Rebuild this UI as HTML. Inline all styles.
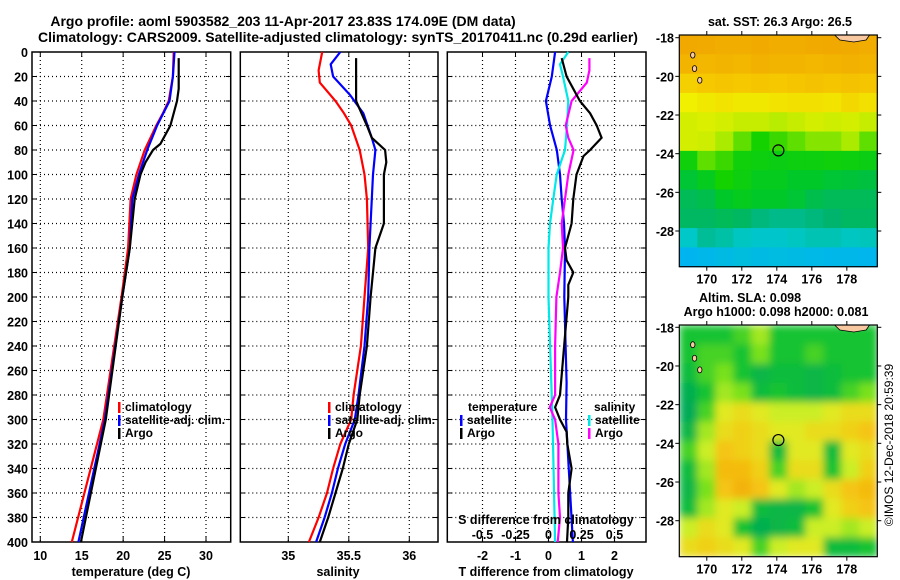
<!DOCTYPE html>
<html><head><meta charset="utf-8">
<style>
html,body{margin:0;padding:0;background:#fff;}
svg{display:block;font-family:"Liberation Sans",Arial,sans-serif;font-weight:bold;}
</style></head>
<body>
<svg id="fig" width="900" height="580" viewBox="0 0 900 580" xmlns="http://www.w3.org/2000/svg">
<defs>
<filter id="smooth" x="0" y="0" width="1" height="1"><feGaussianBlur stdDeviation="4" edgeMode="duplicate"/></filter>
<clipPath id="clipSla"><rect x="679.3" y="325" width="198" height="231.7"/></clipPath>
</defs>
<text x="283" y="26" font-size="14" text-anchor="middle">Argo profile: aoml 5903582_203 11-Apr-2017 23.83S 174.09E (DM data)</text>
<text x="338" y="42" font-size="14" text-anchor="middle">Climatology: CARS2009. Satellite-adjusted climatology: synTS_20170411.nc (0.29d earlier)</text>
<g id="p1"></g>
<g id="p2"></g>
<g id="p3"></g>
<g id="m1"></g>
<g id="m2"></g>
<text transform="translate(893,445) rotate(-90)" font-size="12" font-weight="normal" text-anchor="middle">©IMOS 12-Dec-2018 20:59:39</text>
</svg>
<script>
// ---- data ----
const tDepthClim = [0,20,40,50,60,80,100,120,160,200,300,400];
const tClim      = [26.1,26.0,25.5,24.8,24.0,22.6,21.6,20.9,20.6,19.8,17.6,13.8];
const tDepthSat  = [0,20,40,60,80,100,120,160,200,300,400];
const tSat       = [26.2,26.0,25.6,24.1,22.9,21.9,21.1,20.8,19.9,17.8,14.6];
const tDepthArgo = [5,30,40,60,75,80,90,100,120,160,200,300,400];
const tArgo      = [26.7,26.7,26.5,25.7,24.5,23.6,22.7,22.1,21.4,20.8,19.9,17.9,14.9];

const sDepthClim = [0,15,25,40,50,60,80,100,120,160,200,240,280,300,320,340,360,380,400];
const sClim      = [35.28,35.25,35.26,35.39,35.46,35.52,35.59,35.63,35.65,35.66,35.63,35.60,35.54,35.52,35.43,35.37,35.32,35.25,35.17];
const sDepthSat  = [0,10,20,35,50,70,80,100,120,160,200,240,280,300,320,340,360,380,400];
const sSat       = [35.43,35.35,35.37,35.51,35.62,35.69,35.72,35.70,35.69,35.67,35.66,35.63,35.58,35.55,35.47,35.41,35.36,35.30,35.23];
const sDepthArgo = [5,40,60,70,80,90,100,140,160,200,240,280,300,320,340,360,380,400];
const sArgo      = [35.56,35.56,35.65,35.69,35.80,35.81,35.79,35.79,35.72,35.68,35.65,35.59,35.57,35.50,35.45,35.39,35.33,35.26];

const dDepthTSat = [0,20,40,60,80,100,120,140,160,200,270,300,400];
const dTSat      = [0.2,0.1,-0.08,0.05,0.25,0.35,0.4,0.47,0.5,0.48,0.55,0.53,0.74];
const dDepthTArgo= [5,20,30,40,50,60,70,80,85,100,120,140,160,170,180,190,200,280,290,300,310,320,340,360,380,400];
const dTArgo     = [0.4,0.55,0.75,0.95,1.26,1.46,1.61,1.26,1.06,0.85,0.75,0.7,0.5,0.55,0.75,0.6,0.6,0.35,0.2,0.35,0.55,0.57,0.7,0.6,0.6,0.56];
const dDepthSSat = [0,10,20,40,60,80,100,120,140,160,200,280,300,400];
const dSSat      = [0.15,0.087,0.11,0.15,0.14,0.125,0.062,0.036,0.011,0,0,0.024,0.03,0.05];
const dDepthSArgo= [5,15,25,40,60,70,80,100,120,140,160,180,200,240,280,290,300,320,340,360,380,400];
const dSArgo     = [0.31,0.31,0.29,0.175,0.13,0.15,0.19,0.15,0.125,0.1,0.11,0.087,0.06,0.05,0.05,0.01,0.05,0.075,0.075,0.075,0.087,0.07];

const depthTicks = [0,20,40,60,80,100,120,140,160,180,200,220,240,260,280,300,320,340,360,380,400];
const tTicks = [10,15,20,25,30];
const sTicks = [35,35.5,36];
const sTickLabels = ['35','35.5','36'];
const dTTicks = [-2,-1,0,1,2];
const dSTicks = [-0.5,-0.25,0,0.25,0.5];
const dSTickLabels = ['-0.5','-0.25','0','0.25','0.5'];
const lonTicks = [170,172,174,176,178];
const latTicks = [-18,-20,-22,-24,-26,-28];

const sstGrid = [
[0.97,0.96,0.95,0.95,0.96,0.95,0.95,0.96,0.97,0.96,0.95],
[0.93,0.92,0.93,0.92,0.94,0.93,0.93,0.92,0.93,0.94,0.93],
[0.84,0.86,0.87,0.86,0.87,0.86,0.87,0.88,0.87,0.88,0.87],
[0.76,0.78,0.79,0.78,0.78,0.79,0.80,0.80,0.79,0.82,0.80],
[0.72,0.73,0.72,0.70,0.70,0.68,0.70,0.72,0.71,0.72,0.70],
[0.72,0.71,0.66,0.62,0.58,0.60,0.62,0.64,0.64,0.66,0.62],
[0.56,0.62,0.60,0.56,0.55,0.54,0.55,0.55,0.56,0.55,0.54],
[0.48,0.52,0.58,0.55,0.52,0.52,0.50,0.50,0.48,0.47,0.46],
[0.42,0.44,0.50,0.52,0.50,0.50,0.48,0.44,0.42,0.42,0.42],
[0.40,0.40,0.42,0.40,0.36,0.34,0.34,0.36,0.38,0.40,0.40],
[0.25,0.32,0.30,0.26,0.24,0.24,0.26,0.28,0.28,0.26,0.27],
[0.12,0.14,0.16,0.18,0.16,0.17,0.16,0.15,0.14,0.14,0.13]];
const slaGrid = [
[0.40,0.40,0.40,0.45,0.55,0.40,0.40,0.40,0.40,0.40,0.40],
[0.40,0.45,0.45,0.40,0.50,0.40,0.40,0.45,0.40,0.40,0.40],
[0.35,0.45,0.50,0.40,0.30,0.35,0.35,0.30,0.35,0.40,0.40],
[0.25,0.40,0.55,0.50,0.35,0.40,0.35,0.30,0.35,0.45,0.50],
[0.20,0.45,0.65,0.70,0.65,0.60,0.60,0.60,0.65,0.70,0.70],
[0.30,0.55,0.70,0.75,0.70,0.65,0.65,0.70,0.70,0.75,0.80],
[0.45,0.60,0.80,0.75,0.70,0.35,0.65,0.65,0.35,0.65,0.70],
[0.35,0.55,0.85,0.85,0.75,0.45,0.70,0.70,0.40,0.60,0.75],
[0.30,0.50,0.80,0.90,0.80,0.65,0.55,0.60,0.70,0.80,0.85],
[0.35,0.55,0.65,0.60,0.35,0.30,0.30,0.40,0.65,0.75,0.80],
[0.60,0.70,0.65,0.40,0.25,0.30,0.35,0.60,0.60,0.55,0.60],
[0.70,0.75,0.70,0.65,0.45,0.60,0.65,0.65,0.35,0.35,0.40]];
const argoLon = 174.09, argoLat = -23.83;

// ---- helpers ----
const NS='http://www.w3.org/2000/svg';
function mk(parent,tag,attrs,txt){const e=document.createElementNS(NS,tag);for(const k in attrs)e.setAttribute(k,attrs[k]);if(txt!==undefined)e.textContent=txt;parent.appendChild(e);return e;}
function lin(d0,d1,r0,r1){return v=>r0+(v-d0)*(r1-r0)/(d1-d0);}
const Y0=52, Y1=542;
const yD = lin(0,400,Y0,Y1);

function panelFrame(g,x0,x1,gridXs,name){
  for(const d of depthTicks){ if(d===0||d===400)continue;
    const l=mk(g,'line',{x1:x0,x2:x1,y1:yD(d),y2:yD(d),stroke:'#000','stroke-width':1.2,'stroke-dasharray':'1 3'});
    
    mk(g,'line',{x1:x0,x2:x0+5,y1:yD(d),y2:yD(d),stroke:'#000'});
    mk(g,'line',{x1:x1-5,x2:x1,y1:yD(d),y2:yD(d),stroke:'#000'});
  }
  for(const x of gridXs){
    const l=mk(g,'line',{x1:x,x2:x,y1:Y0,y2:Y1,stroke:'#000','stroke-width':1.2,'stroke-dasharray':'1 3'});
    
    mk(g,'line',{x1:x,x2:x,y1:Y1-5,y2:Y1,stroke:'#000'});
    mk(g,'line',{x1:x,x2:x,y1:Y0,y2:Y0+5,stroke:'#000'});
  }
  const r=mk(g,'rect',{x:x0,y:Y0,width:x1-x0,height:Y1-Y0,fill:'none',stroke:'#000','stroke-width':1.5});
  
}
function line(g,xs,ds,sx,color,name){
  const pts=xs.map((v,i)=>sx(v).toFixed(1)+','+yD(ds[i]).toFixed(1)).join(' ');
  const p=mk(g,'polyline',{points:pts,fill:'none',stroke:color,'stroke-width':2.2});
  
}
function legend(g,x,y,items){
  items.forEach((it,i)=>{
    const yy=y+i*13;
    mk(g,'rect',{x:x,y:yy-9,width:2.5,height:11,fill:it[1]});
    const t=mk(g,'text',{x:x+7,y:yy,'font-size':12},it[0]);
    
  });
}

// ---- panel 1: temperature ----
const p1=document.getElementById('p1');
const xT=lin(10,30,40.3,206);
panelFrame(p1,32,230.7,tTicks.map(xT),'temperature-panel');
depthTicks.forEach(d=>{const t=mk(p1,'text',{x:28,y:yD(d)+5,'font-size':12.5,'text-anchor':'end'},String(d));
  });
tTicks.forEach(v=>{const t=mk(p1,'text',{x:xT(v),y:560,'font-size':12.5,'text-anchor':'middle'},String(v));
  });
{const t=mk(p1,'text',{x:131,y:576,'font-size':12.5,'text-anchor':'middle'},'temperature (deg C)');}
line(p1,tClim,tDepthClim,xT,'#ff0000','temperature-climatology-line');
line(p1,tSat,tDepthSat,xT,'#0000ff','temperature-satellite-line');
line(p1,tArgo,tDepthArgo,xT,'#000000','temperature-argo-line');
legend(p1,118,411,[['climatology','#f00'],['satellite-adj. clim.','#00f'],['Argo','#000']]);

// ---- panel 2: salinity ----
const p2=document.getElementById('p2');
const xS=lin(35,36,288.3,409.3);
panelFrame(p2,240.3,438,sTicks.map(xS),'salinity-panel');
sTicks.forEach((v,i)=>{const t=mk(p2,'text',{x:xS(v),y:560,'font-size':12.5,'text-anchor':'middle'},sTickLabels[i]);
  });
{const t=mk(p2,'text',{x:338,y:576,'font-size':12.5,'text-anchor':'middle'},'salinity');}
line(p2,sClim,sDepthClim,xS,'#ff0000','salinity-climatology-line');
line(p2,sSat,sDepthSat,xS,'#0000ff','salinity-satellite-line');
line(p2,sArgo,sDepthArgo,xS,'#000000','salinity-argo-line');
legend(p2,328,411,[['climatology','#f00'],['satellite-adj. clim.','#00f'],['Argo','#000']]);

// ---- panel 3: differences ----
const p3=document.getElementById('p3');
const xDT=lin(0,1,548.5,581.5);
const xDS=lin(0,0.25,548.5,581.5);
panelFrame(p3,447.3,646,dTTicks.map(xDT),'difference-panel');
line(p3,dTSat,dDepthTSat,xDT,'#0000ff','t-diff-satellite-line');
line(p3,dSSat,dDepthSSat,xDS,'#00e8e8','s-diff-satellite-line');
line(p3,dSArgo,dDepthSArgo,xDS,'#ff00ff','s-diff-argo-line');
line(p3,dTArgo,dDepthTArgo,xDT,'#000000','t-diff-argo-line');
dTTicks.forEach(v=>{const t=mk(p3,'text',{x:xDT(v),y:560,'font-size':12.5,'text-anchor':'middle'},String(v));
  });
dSTicks.forEach((v,i)=>{const t=mk(p3,'text',{x:xDS(v),y:539,'font-size':12.5,'text-anchor':'middle'},dSTickLabels[i]);
  });
{const t=mk(p3,'text',{x:546,y:524,'font-size':12.5,'text-anchor':'middle'},'S difference from climatology');}
{const t=mk(p3,'text',{x:546,y:576,'font-size':12.5,'text-anchor':'middle'},'T difference from climatology');}
{const t=mk(p3,'text',{x:468,y:411,'font-size':12},'temperature');}
{const t=mk(p3,'text',{x:594,y:411,'font-size':12},'salinity');}
legend(p3,460,424,[['satellite','#00f'],['Argo','#000']]);
legend(p3,588,424,[['satellite','#00e8e8'],['Argo','#ff00ff']]);

// ---- maps ----
function interp(stops,v){
  v=Math.max(0,Math.min(1,v));
  for(let i=1;i<stops.length;i++){ if(v<=stops[i][0]){const a=stops[i-1],b=stops[i];const f=(v-a[0])/(b[0]-a[0]);
    return 'rgb('+[1,2,3].map(k=>Math.round(a[k]+(b[k]-a[k])*f)).join(',')+')';}}
  const l=stops[stops.length-1];return 'rgb('+l[1]+','+l[2]+','+l[3]+')';
}
const sstStops=[[0,20,90,255],[0.12,0,180,240],[0.25,0,200,200],[0.38,0,180,110],[0.5,0,200,40],[0.58,20,210,0],[0.66,170,235,0],[0.76,240,240,0],[0.86,245,200,0],[1,240,160,0]];
const slaStops=[[0,0,150,110],[0.25,0,175,80],[0.4,20,195,50],[0.5,120,225,30],[0.62,220,240,40],[0.78,245,200,20],[1,242,160,0]];
function drawMap(g,y0,y1,lat0,lat1,grid,stops,name,smooth){
  const X0=679.3,X1=877.3;
  const xL=lin(168.43,179.74,X0,X1), yL=lin(-18,-28,lat0,lat1);
  const rows=grid.length, cols=grid[0].length, cw=(X1-X0)/cols, ch=(y1-y0)/rows;
  let cg=g;
  if(smooth){const clip=mk(g,'g',{'clip-path':'url(#clipSla)'});cg=mk(clip,'g',{filter:'url(#smooth)'});}
  grid.forEach((row,r)=>row.forEach((v,c)=>{
    const cell=mk(cg,'rect',{x:(X0+c*cw).toFixed(2),y:(y0+r*ch).toFixed(2),width:(cw+0.6).toFixed(2),height:(ch+0.6).toFixed(2),fill:interp(stops,v)});
    
  }));
  const land=mk(g,'path',{d:`M${xL(177.3)},${y0} L${xL(179.3)},${y0} L${xL(179.1)},${y0+5} L${xL(178.4)},${y0+7} L${xL(177.6)},${y0+5} Z`,fill:'#f8c8a0',stroke:'#000','stroke-width':0.8});
  
  [[169.2,-18.9],[169.3,-19.6],[169.6,-20.2]].forEach(p=>{const e=mk(g,'ellipse',{cx:xL(p[0]),cy:yL(p[1]),rx:2.2,ry:3,fill:'#f8c8a0',stroke:'#000','stroke-width':0.8});
    });
  const fr=mk(g,'rect',{x:X0,y:y0,width:X1-X0,height:y1-y0,fill:'none',stroke:'#000','stroke-width':1.2});
  
  const c=mk(g,'circle',{cx:xL(argoLon),cy:yL(argoLat),r:5.5,fill:'none',stroke:'#000','stroke-width':1.2});
  
  lonTicks.forEach(v=>{mk(g,'line',{x1:xL(v),x2:xL(v),y1:y1,y2:y1+4,stroke:'#000'});mk(g,'line',{x1:xL(v),x2:xL(v),y1:y0-4,y2:y0,stroke:'#000'});
    const t=mk(g,'text',{x:xL(v),y:y1+17,'font-size':12.5,'text-anchor':'middle'},String(v));
    });
  latTicks.forEach(v=>{mk(g,'line',{x1:X0-4,x2:X0,y1:yL(v),y2:yL(v),stroke:'#000'});mk(g,'line',{x1:X1,x2:X1+4,y1:yL(v),y2:yL(v),stroke:'#000'});
    const t=mk(g,'text',{x:674,y:yL(v)+5,'font-size':12.5,'text-anchor':'end'},String(v));
    });
}
const m1=document.getElementById('m1'), m2=document.getElementById('m2');
drawMap(m1,35,266.7,37.7,231,sstGrid,sstStops,'sst-map',false);
drawMap(m2,325,556.7,327.3,520.7,slaGrid,slaStops,'sla-map',true);
{const t=mk(m1,'text',{x:780,y:26,'font-size':12.5,'text-anchor':'middle'},'sat. SST: 26.3 Argo: 26.5');}
{const t=mk(m2,'text',{x:750,y:302,'font-size':12.5,'text-anchor':'middle'},'Altim. SLA: 0.098');}
{const t=mk(m2,'text',{x:776,y:316,'font-size':12.5,'text-anchor':'middle'},'Argo h1000: 0.098 h2000: 0.081');}
</script>
</body></html>
